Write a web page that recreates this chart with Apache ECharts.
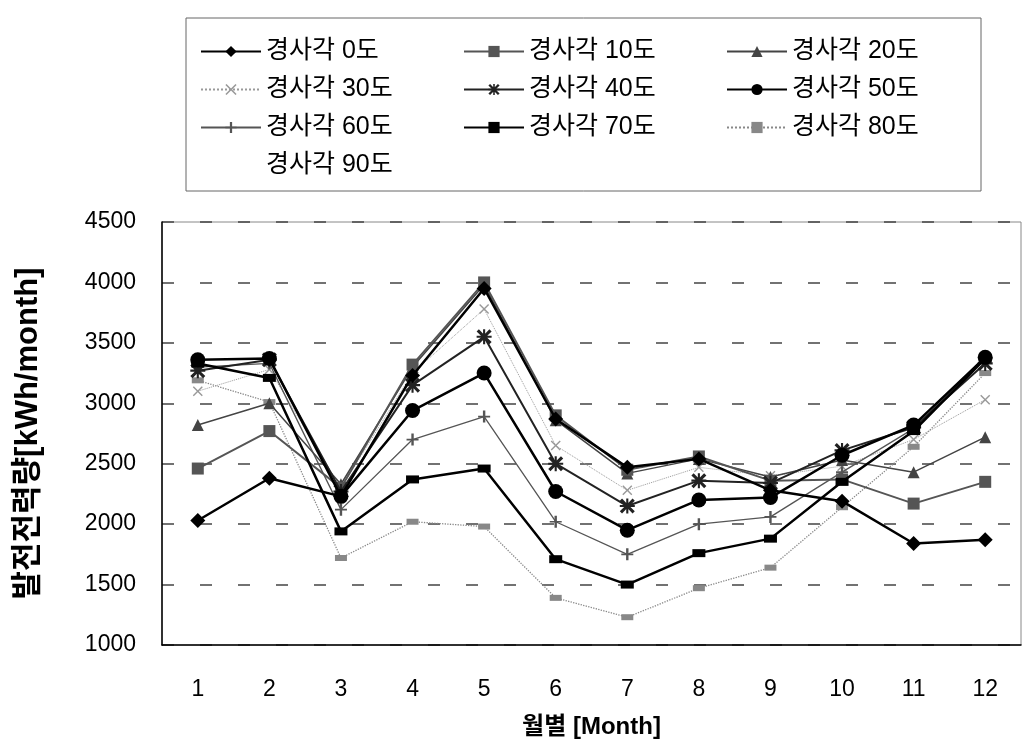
<!DOCTYPE html>
<html><head><meta charset="utf-8">
<script src="https://cdn.jsdelivr.net/npm/echarts@6/dist/echarts.min.js"></script>
<style>html,body{margin:0;padding:0;background:#fff}#c{width:1022px;height:750px}</style>
</head><body><div id="c"></div>
<script>
const months = ['1','2','3','4','5','6','7','8','9','10','11','12'];
const names = ['경사각 0도','경사각 10도','경사각 20도','경사각 30도','경사각 40도','경사각 50도','경사각 60도','경사각 70도','경사각 80도','경사각 90도'];
const tilt0  = [2030, 2380, 2230, 3230, 3950, 2870, 2470, 2540, 2280, 2190, 1840, 1870];
const tilt10 = [2460, 2770, 2300, 3320, 4000, 2900, 2450, 2560, 2360, 2370, 2170, 2350];
const tilt20 = [2820, 3000, 2330, 3300, 3980, 2860, 2420, 2540, 2390, 2530, 2430, 2720];
const tilt30 = [3100, 3280, 2300, 3250, 3780, 2650, 2280, 2470, 2400, 2480, 2700, 3030];
const tilt40 = [3270, 3360, 2270, 3150, 3550, 2500, 2150, 2360, 2340, 2610, 2800, 3330];
const tilt50 = [3360, 3370, 2230, 2940, 3250, 2270, 1950, 2200, 2220, 2570, 2820, 3380];
const tilt60 = [3300, 3330, 2120, 2700, 2890, 2020, 1750, 2000, 2060, 2430, 2790, 3390];
const tilt70 = [3330, 3210, 1940, 2370, 2460, 1710, 1500, 1760, 1880, 2350, 2770, 3370];
const tilt80 = [3190, 3010, 1720, 2020, 1980, 1390, 1230, 1470, 1640, 2140, 2640, 3250];
const tilt90 = [null, null, null, null, null, null, null, null, null, null, null, null];
const yTicks = [1000, 4500, 500];

const X = 'path://M0,1L1,0L5,4L9,0L10,1L6,5L10,9L9,10L5,6L1,10L0,9L4,5Z';
const AST = 'path://M0,1.5L1.5,0L5,3.6L8.5,0L10,1.5L6.4,5L10,8.5L8.5,10L5,6.4L1.5,10L0,8.5L3.6,5Z M4.3,0H5.7V10H4.3Z M0,4.3H10V5.7H0Z';
const PLUS = 'path://M4.2,0H5.8V10H4.2Z M1,4.3H9V5.7H1Z';
const FONT = '"Liberation Sans", "Noto Sans CJK KR", sans-serif';

const styles = [
  {sym:'diamond', size:15, c:'#000', lw:2.5, lt:'solid'},
  {sym:'rect', size:[12,12], c:'#555', lw:2, lt:'solid'},
  {sym:'triangle', size:12, c:'#444', lw:1.5, lt:'solid'},
  {sym:X, size:10, c:'#999', lw:1, lt:'dotted'},
  {sym:AST, size:15, c:'#222', lw:2, lt:'solid'},
  {sym:'circle', size:15, c:'#000', lw:2.5, lt:'solid'},
  {sym:PLUS, size:12, c:'#555', lw:1.3, lt:'solid'},
  {sym:'rect', size:[13,8], c:'#000', lw:2.5, lt:'solid'},
  {sym:'rect', size:[12,6], c:'#888', lw:1.3, lt:'dotted'},
  {sym:'none', size:1, c:'rgba(0,0,0,0)', lw:0, lt:'solid'}
];
const data = [tilt0, tilt10, tilt20, tilt30, tilt40, tilt50, tilt60, tilt70, tilt80, tilt90];
const order = [9,8,3,6,2,1,4,7,5,0];
const series = order.map(i => ({
  name: names[i], type: 'line', data: data[i],
  symbol: styles[i].sym, symbolSize: styles[i].size, showSymbol: styles[i].sym !== 'none',
  lineStyle: {color: styles[i].c, width: styles[i].lw, type: styles[i].lt, opacity: i===9?0:1},
  itemStyle: {color: styles[i].c, opacity: i===9?0:1},
  z: 2 + order.indexOf(i), animation: false
}));

const chart = echarts.init(document.getElementById('c'));
chart.setOption({
  animation: false,
  backgroundColor: '#fff',
  legend: {
    data: names, left: 186, top: 18, width: 790,
    itemWidth: 60, itemHeight: 14, itemGap: 13,
    padding: [21, 5, 13, 14],
    borderColor: '#666', borderWidth: 1,
    textStyle: {fontFamily: FONT, fontSize: 25, color: '#000', width: 184, lineHeight: 25},
    selectedMode: false
  },
  grid: {left: 162, right: 1, top: 222, bottom: 105, show: true, borderColor: '#888', borderWidth: 1},
  xAxis: {
    type: 'category', data: months, boundaryGap: true,
    axisLine: {lineStyle: {color: '#000', width: 1.5}}, axisTick: {show: false},
    axisLabel: {fontFamily: FONT, fontSize: 23, color: '#000', margin: 33},
    name: '월별 [Month]', nameLocation: 'middle', nameGap: 70,
    nameTextStyle: {fontFamily: FONT, fontSize: 24, fontWeight: 'bold', color: '#000'}
  },
  yAxis: {
    type: 'value', min: yTicks[0], max: yTicks[1], interval: yTicks[2],
    axisLine: {show: true, lineStyle: {color: '#000', width: 1.5}}, axisTick: {show: false},
    axisLabel: {fontFamily: FONT, fontSize: 23, color: '#000', margin: 26, formatter: v => String(v)},
    splitLine: {lineStyle: {color: '#444', width: 1.5, type: [12, 26]}},
    name: '발전전력량[kWh/month]', nameLocation: 'middle', nameGap: 118, nameRotate: 90,
    nameTextStyle: {fontFamily: FONT, fontSize: 31, fontWeight: 'bold', color: '#000'}
  },
  series: series
});
</script></body></html>
